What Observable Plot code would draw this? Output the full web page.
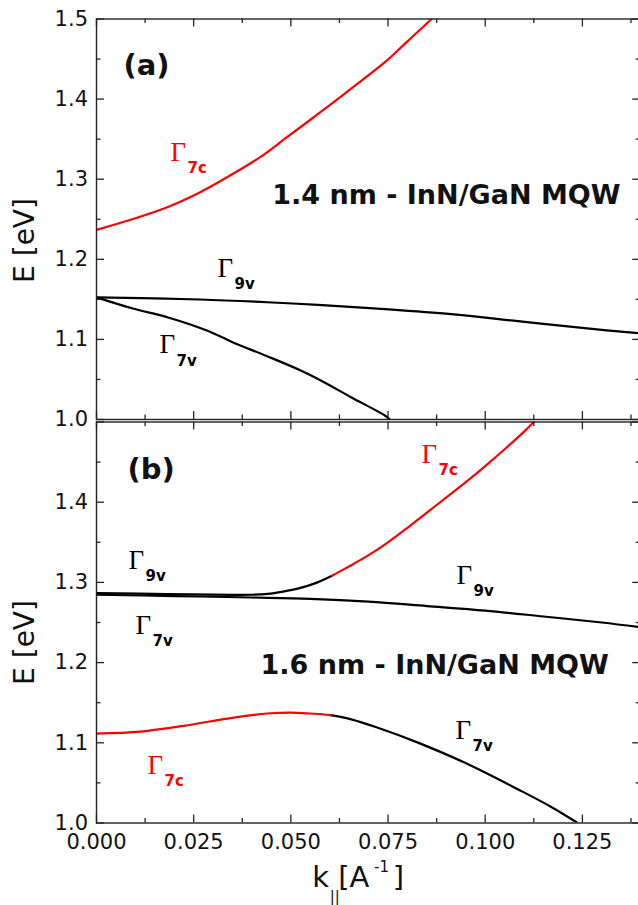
<!DOCTYPE html>
<html><head><meta charset="utf-8">
<script src="https://cdn.jsdelivr.net/npm/d3@7"></script>
<script src="https://cdn.jsdelivr.net/npm/@observablehq/plot@0.6"></script>
<style>
html,body{margin:0;padding:0;background:#fff;}
#chart{width:638px;height:905px;overflow:hidden;position:relative;}
#chart svg{display:block;max-width:none;}
</style></head><body><div id="chart"></div>
<script>
// ---------- axes ----------
const kDomain = [0, 0.14];
const eDomain = [1.0, 1.5];
const kMajor = [0, 0.025, 0.05, 0.075, 0.1, 0.125];
const kMinor = [0.0125, 0.0375, 0.0625, 0.0875, 0.1125, 0.1375];
const kTickLabels = [0, 0.025, 0.05, 0.075, 0.1, 0.125];
const eMajor = [1.0, 1.1, 1.2, 1.3, 1.4, 1.5];
const eMinor = [1.05, 1.15, 1.25, 1.35, 1.45];
const eTickLabelsA = [1.0, 1.1, 1.2, 1.3, 1.4, 1.5];
const eTickLabelsB = [1.0, 1.1, 1.2, 1.3, 1.4];

// ---------- panel (a): 1.4 nm ----------
const a_G7c_k = [0, 0.0096, 0.0182, 0.025, 0.0336, 0.0421, 0.049, 0.0576, 0.0656, 0.0742, 0.0793, 0.0862];
const a_G7c_E = [1.2368, 1.2506, 1.2650, 1.2796, 1.3025, 1.3275, 1.3524, 1.3836, 1.4135, 1.4461, 1.4690, 1.5000];
const a_G9v_k = [0, 0.0267, 0.0439, 0.057, 0.0742, 0.0913, 0.1084, 0.1256, 0.14];
const a_G9v_E = [1.1525, 1.1498, 1.1464, 1.1430, 1.1378, 1.1315, 1.1227, 1.1140, 1.1075];
const a_G7v_k = [0, 0.0096, 0.0182, 0.0284, 0.035, 0.0439, 0.0524, 0.0576, 0.0656, 0.0742, 0.0755];
const a_G7v_E = [1.1525, 1.1382, 1.1277, 1.1111, 1.0965, 1.0790, 1.0615, 1.0490, 1.0275, 1.0050, 1.0000];

// ---------- panel (b): 1.6 nm ----------
const b_upperBlack_k = [0, 0.0182, 0.0353, 0.040, 0.044, 0.048, 0.052, 0.056, 0.0606];
const b_upperBlack_E = [1.2868, 1.2855, 1.2845, 1.2846, 1.2856, 1.2885, 1.2925, 1.2985, 1.3084];
const b_upperRed_k = [0.0606, 0.065, 0.070, 0.075, 0.080, 0.085, 0.090, 0.095, 0.100, 0.105, 0.110, 0.1125];
const b_upperRed_E = [1.3084, 1.320, 1.334, 1.350, 1.368, 1.387, 1.406, 1.425, 1.445, 1.466, 1.488, 1.500];
const b_G9v_k = [0, 0.02, 0.04, 0.055, 0.07, 0.085, 0.1, 0.115, 0.13, 0.14];
const b_G9v_E = [1.2846, 1.2830, 1.2812, 1.2795, 1.2760, 1.2705, 1.2648, 1.2575, 1.2500, 1.2440];
const b_lowerRed_k = [0, 0.0113, 0.0224, 0.0353, 0.0439, 0.0498, 0.055, 0.0602];
const b_lowerRed_E = [1.1115, 1.1140, 1.1211, 1.1315, 1.1365, 1.1377, 1.1365, 1.1345];
const b_G7v_k = [0.0602, 0.0653, 0.0722, 0.0827, 0.0956, 0.1084, 0.1170, 0.1238];
const b_G7v_E = [1.1345, 1.1295, 1.1190, 1.1002, 1.0733, 1.0421, 1.0200, 1.0000];

// ---------- annotations (data coordinates) ----------
const gammaA = [
  {k: 0.01904, E: 1.3233, sub: "7c"},
  {k: 0.03113, E: 1.1785, sub: "9v"},
  {k: 0.01621, E: 1.0824, sub: "7v"}
];
const gammaB = [
  {k: 0.00823, E: 1.3171, sub: "9v"},
  {k: 0.01003, E: 1.2360, sub: "7v"},
  {k: 0.01312, E: 1.0612, sub: "7c"},
  {k: 0.0836, E: 1.4494, sub: "7c"},
  {k: 0.09261, E: 1.2984, sub: "9v"},
  {k: 0.09236, E: 1.1049, sub: "7v"}
];
const panelTagA = [{k: 0.00695, E: 1.4295, text: "(a)"}];
const panelTagB = [{k: 0.00798, E: 1.4295, text: "(b)"}];
const titleA = [{k: 0.0452, E: 1.2693, text: "1.4 nm - InN/GaN MQW"}];
const titleB = [{k: 0.0422, E: 1.1860, text: "1.6 nm - InN/GaN MQW"}];
const yLabelA = [{k: -0.016, E: 1.2235, text: "E [eV]"}];
const yLabelB = [{k: -0.016, E: 1.2251, text: "E [eV]"}];
const xLabelMain = [
  {k: 0.0555, E: 0.9196, text: "k"},
  {k: 0.0622, E: 0.9196, text: "[A"},
  {k: 0.0762, E: 0.9196, text: "]"}
];
const xLabelSmall = [
  {k: 0.0600, E: 0.9009, text: "||"},
  {k: 0.0714, E: 0.9383, text: "-1"}
];

const RED = "#ff0000";
const zip = (ks, es) => ks.map((k, i) => ({k, E: es[i]}));

const W = 642, ML = 96, MR = 1.8;
const plotW = W - ML - MR;
const SANS = "'DejaVu Sans', sans-serif";
const SERIF = "'Liberation Serif', 'Times New Roman', serif";

function tickMarks(plotH) {
  const st = {stroke: "#222", strokeWidth: 1.3};
  return [
    Plot.tickX(kMajor, {x: d => d, insetTop: plotH - 8, ...st}),
    Plot.tickX(kMajor, {x: d => d, insetBottom: plotH - 8, ...st}),
    Plot.tickX(kMinor, {x: d => d, insetTop: plotH - 4.5, ...st}),
    Plot.tickX(kMinor, {x: d => d, insetBottom: plotH - 4.5, ...st}),
    Plot.tickY(eMajor, {y: d => d, insetRight: plotW - 8, ...st}),
    Plot.tickY(eMajor, {y: d => d, insetLeft: plotW - 8, ...st}),
    Plot.tickY(eMinor, {y: d => d, insetRight: plotW - 4.5, ...st}),
    Plot.tickY(eMinor, {y: d => d, insetLeft: plotW - 4.5, ...st})
  ];
}

function gammaMarks(list) {
  const col = d => d.sub === "7c" ? RED : "#000";
  return [
    Plot.text(list, {x: "k", y: "E", text: () => "Γ", fill: col, fontFamily: SERIF, fontSize: 27,
      textAnchor: "start", lineAnchor: "bottom"}),
    Plot.text(list, {x: "k", y: "E", text: "sub", fill: col, fontFamily: SANS, fontWeight: "bold", fontSize: 15,
      textAnchor: "start", lineAnchor: "bottom", dx: 17, dy: 12.5})
  ];
}

function lineMark(ks, es, color) {
  return Plot.line(zip(ks, es), {x: "k", y: "E", stroke: color, strokeWidth: 2.2, curve: "catmull-rom", clip: true});
}

const common = (height, mt, mb, overflow) => ({
  width: W, height, marginLeft: ML, marginRight: MR, marginTop: mt, marginBottom: mb,
  x: {domain: kDomain, label: null},
  y: {domain: eDomain, label: null},
  color: {type: "identity"},
  style: {fontFamily: SANS, fontSize: "21px", color: "#111", background: "transparent", maxWidth: "none", overflow}
});

// Panel (a)
const hA = 420, mtA = 18.5, mbA = 1;
const plotA = Plot.plot({
  ...common(hA, mtA, mbA, "visible"),
  x: {domain: kDomain, label: null, axis: null},
  marks: [
    lineMark(a_G9v_k, a_G9v_E, "#000"),
    lineMark(a_G7v_k, a_G7v_E, "#000"),
    lineMark(a_G7c_k, a_G7c_E, RED),
    Plot.frame({stroke: "#222", strokeWidth: 1.4}),
    ...tickMarks(hA - mtA - mbA),
    Plot.axisY({ticks: eTickLabelsA, tickSize: 0, tickPadding: 8.5, tickFormat: d => d.toFixed(1), fontSize: 21, label: null}),
    ...gammaMarks(gammaA),
    Plot.text(panelTagA, {x: "k", y: "E", text: "text", fontWeight: "bold", fontSize: 29, textAnchor: "start", lineAnchor: "bottom"}),
    Plot.text(titleA, {x: "k", y: "E", text: "text", fontWeight: "bold", fontSize: 27, textAnchor: "start", lineAnchor: "bottom"}),
    Plot.text(yLabelA, {x: "k", y: "E", text: "text", fontSize: 28, rotate: -90, textAnchor: "middle", lineAnchor: "bottom"})
  ]
});

// Panel (b)
const hB = 485, mtB = 1.5, mbB = 82.5;
const plotB = Plot.plot({
  ...common(hB, mtB, mbB, "hidden"),
  marks: [
    lineMark(b_G9v_k, b_G9v_E, "#000"),
    lineMark(b_upperBlack_k, b_upperBlack_E, "#000"),
    lineMark(b_G7v_k, b_G7v_E, "#000"),
    lineMark(b_upperRed_k, b_upperRed_E, RED),
    lineMark(b_lowerRed_k, b_lowerRed_E, RED),
    Plot.frame({stroke: "#222", strokeWidth: 1.4}),
    ...tickMarks(hB - mtB - mbB),
    Plot.axisY({ticks: eTickLabelsB, tickSize: 0, tickPadding: 8.5, tickFormat: d => d.toFixed(1), fontSize: 21, label: null}),
    Plot.axisX({ticks: kTickLabels, tickSize: 0, tickPadding: 11.5, tickFormat: d => d.toFixed(3), fontSize: 21, label: null}),
    ...gammaMarks(gammaB),
    Plot.text(panelTagB, {x: "k", y: "E", text: "text", fontWeight: "bold", fontSize: 29, textAnchor: "start", lineAnchor: "bottom"}),
    Plot.text(titleB, {x: "k", y: "E", text: "text", fontWeight: "bold", fontSize: 27, textAnchor: "start", lineAnchor: "bottom"}),
    Plot.text(yLabelB, {x: "k", y: "E", text: "text", fontSize: 28, rotate: -90, textAnchor: "middle", lineAnchor: "bottom"}),
    Plot.text(xLabelMain, {x: "k", y: "E", text: "text", fontSize: 29, textAnchor: "start", lineAnchor: "bottom"}),
    Plot.text(xLabelSmall, {x: "k", y: "E", text: "text", fontSize: 15, textAnchor: "start", lineAnchor: "bottom"})
  ]
});

const chart = document.getElementById("chart");
chart.appendChild(plotA);
chart.appendChild(plotB);
</script>
</body></html>
